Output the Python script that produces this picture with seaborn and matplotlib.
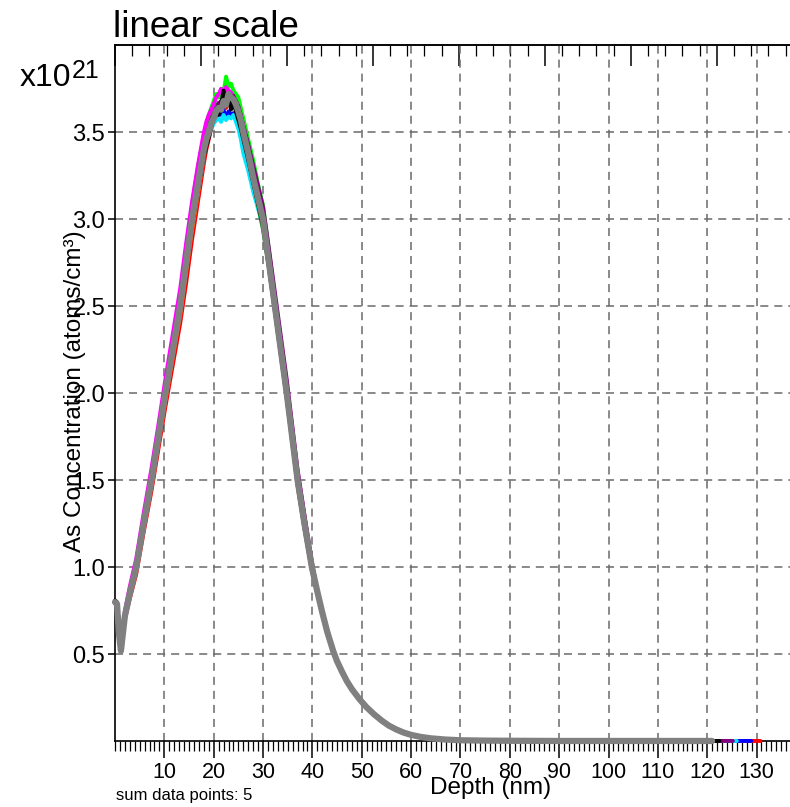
import numpy as np
import pandas as pd
import matplotlib
matplotlib.use("Agg")
import matplotlib.pyplot as plt
import seaborn as sns
from matplotlib.ticker import FixedLocator, MultipleLocator, NullFormatter

# ---------------- data (As concentration in units of 1e21 atoms/cm3) ----------------
depth_head = [0, 0.4, 0.8, 1.2, 1.6, 2, 3, 4.3, 5.8, 7.4, 8.8, 10.2, 11.7, 13.2, 14.4, 15.6, 16.8,
              18, 18.5, 19, 19.5, 20, 20.5, 21, 21.5, 22, 22.5, 23, 23.5, 24, 24.5, 25, 25.5, 26,
              27, 28, 29, 30, 31.2, 32.4, 33.6, 34.8, 35.9, 37, 38.4, 39.9]

depth_tail = [41, 42, 43, 44.2, 45, 46, 47, 48, 49.6, 51, 52.5, 54, 55.5, 57, 58.5, 60, 62, 64, 67,
              70, 75, 80, 90, 100, 110, 118, 119, 120, 121, 122.5, 125.2, 126, 127.7, 128.9, 130.8]
conc_tail = [0.86, 0.74, 0.63, 0.52, 0.46, 0.40, 0.345, 0.30, 0.24, 0.195, 0.155, 0.12, 0.09, 0.068,
             0.05, 0.037, 0.025, 0.017, 0.010, 0.006, 0.004, 0.003, 0.002, 0.002, 0.002, 0.002, 0.002,
             0.002, 0.002, 0.002, 0.002, 0.002, 0.002, 0.002, 0.002]

red = [0.80, 0.78, 0.61, 0.52, 0.60, 0.70, 0.82, 0.96, 1.20, 1.44, 1.68, 1.92, 2.16, 2.40, 2.63, 2.88, 3.10,
       3.32, 3.40, 3.46, 3.52, 3.56, 3.60, 3.63, 3.62, 3.66, 3.64, 3.68, 3.67, 3.66, 3.63, 3.60, 3.56, 3.50,
       3.38, 3.25, 3.12, 3.00, 2.75, 2.50, 2.25, 2.00, 1.74, 1.49, 1.24, 0.99]
orange = [0.80, 0.78, 0.61, 0.52, 0.61, 0.71, 0.84, 0.98, 1.23, 1.47, 1.72, 1.96, 2.21, 2.45, 2.70, 2.94, 3.15,
          3.36, 3.44, 3.49, 3.54, 3.58, 3.61, 3.62, 3.65, 3.64, 3.67, 3.66, 3.70, 3.67, 3.65, 3.61, 3.55, 3.48,
          3.37, 3.24, 3.12, 3.00, 2.76, 2.51, 2.26, 2.01, 1.76, 1.51, 1.26, 1.01]
blue = [0.80, 0.79, 0.62, 0.52, 0.62, 0.72, 0.85, 0.99, 1.24, 1.49, 1.74, 1.99, 2.24, 2.49, 2.74, 2.98, 3.18,
        3.38, 3.45, 3.50, 3.53, 3.57, 3.59, 3.61, 3.60, 3.63, 3.58, 3.62, 3.60, 3.61, 3.58, 3.55, 3.52, 3.47,
        3.36, 3.23, 3.11, 2.99, 2.75, 2.50, 2.25, 2.00, 1.75, 1.50, 1.25, 1.00]
cyan = [0.80, 0.79, 0.62, 0.52, 0.62, 0.72, 0.85, 1.00, 1.25, 1.50, 1.75, 2.00, 2.25, 2.50, 2.74, 2.98, 3.19,
        3.38, 3.44, 3.48, 3.52, 3.55, 3.57, 3.58, 3.56, 3.60, 3.57, 3.59, 3.58, 3.60, 3.56, 3.52, 3.46, 3.38,
        3.28, 3.16, 3.06, 2.96, 2.73, 2.49, 2.24, 1.99, 1.74, 1.49, 1.24, 0.99]
green = [0.80, 0.79, 0.62, 0.52, 0.62, 0.72, 0.85, 1.00, 1.25, 1.51, 1.76, 2.02, 2.28, 2.55, 2.82, 3.08, 3.30,
         3.48, 3.55, 3.60, 3.64, 3.68, 3.72, 3.70, 3.75, 3.73, 3.82, 3.76, 3.78, 3.74, 3.72, 3.70, 3.64, 3.58,
         3.46, 3.34, 3.20, 3.08, 2.82, 2.55, 2.28, 2.01, 1.76, 1.51, 1.26, 1.01]
darkgreen = [0.80, 0.79, 0.62, 0.52, 0.62, 0.72, 0.85, 1.00, 1.26, 1.51, 1.76, 2.01, 2.26, 2.52, 2.77, 3.02, 3.23,
             3.42, 3.49, 3.54, 3.58, 3.61, 3.65, 3.67, 3.66, 3.70, 3.69, 3.73, 3.71, 3.70, 3.67, 3.62, 3.56, 3.49,
             3.36, 3.22, 3.08, 2.94, 2.72, 2.48, 2.24, 1.99, 1.74, 1.49, 1.24, 0.99]
magenta = [0.80, 0.79, 0.63, 0.53, 0.64, 0.75, 0.89, 1.05, 1.31, 1.57, 1.82, 2.08, 2.34, 2.60, 2.86, 3.10, 3.31,
           3.50, 3.56, 3.60, 3.63, 3.66, 3.70, 3.72, 3.75, 3.71, 3.76, 3.74, 3.73, 3.70, 3.68, 3.64, 3.59, 3.53,
           3.42, 3.29, 3.16, 3.04, 2.80, 2.55, 2.30, 2.05, 1.80, 1.55, 1.29, 1.02]
purple = [0.80, 0.79, 0.62, 0.52, 0.62, 0.72, 0.85, 1.00, 1.25, 1.50, 1.75, 2.00, 2.25, 2.50, 2.75, 3.00, 3.21,
          3.41, 3.47, 3.51, 3.56, 3.60, 3.62, 3.66, 3.68, 3.70, 3.69, 3.72, 3.70, 3.71, 3.68, 3.65, 3.60, 3.54,
          3.43, 3.31, 3.19, 3.07, 2.83, 2.58, 2.33, 2.08, 1.82, 1.56, 1.30, 1.03]
black = [0.81, 0.80, 0.62, 0.52, 0.61, 0.71, 0.84, 0.99, 1.24, 1.49, 1.74, 1.99, 2.24, 2.49, 2.73, 2.97, 3.17,
         3.36, 3.42, 3.47, 3.53, 3.58, 3.61, 3.60, 3.66, 3.74, 3.66, 3.72, 3.63, 3.68, 3.62, 3.57, 3.52, 3.46,
         3.34, 3.21, 3.09, 2.97, 2.72, 2.47, 2.22, 1.97, 1.72, 1.47, 1.22, 0.98]
gray = [0.80, 0.79, 0.62, 0.52, 0.62, 0.72, 0.85, 1.00, 1.25, 1.50, 1.75, 2.00, 2.25, 2.50, 2.75, 3.00, 3.20,
        3.40, 3.46, 3.50, 3.55, 3.58, 3.62, 3.64, 3.63, 3.68, 3.66, 3.72, 3.70, 3.69, 3.66, 3.62, 3.57, 3.50,
        3.38, 3.24, 3.12, 3.00, 2.75, 2.50, 2.25, 2.00, 1.75, 1.50, 1.25, 1.00]

series_names = ["red", "orange", "blue", "cyan", "green", "darkgreen", "magenta", "purple", "black", "gray"]
series_values = [red, orange, blue, cyan, green, darkgreen, magenta, purple, black, gray]
series_end = [130.8, 127.7, 128.9, 126.0, 118.0, 119.0, 120.0, 125.2, 122.5, 121.0]
series_colors = ["#ff0000", "#ff8000", "#0000ff", "#00e6ff", "#00ff00", "#008000",
                 "#ff00ff", "#800080", "#000000", "#808080"]

x_ticks = [10, 20, 30, 40, 50, 60, 70, 80, 90, 100, 110, 120, 130]
x_ticklabels = [str(v) for v in x_ticks]
y_ticks = [0.5, 1.0, 1.5, 2.0, 2.5, 3.0, 3.5]
y_ticklabels = ["0.5", "1.0", "1.5", "2.0", "2.5", "3.0", "3.5"]

# ---------------- figure ----------------
sns.set_theme(style="ticks")
plt.rcParams["font.family"] = ["Liberation Sans", "DejaVu Sans"]
plt.rcParams["lines.scale_dashes"] = False

W, H = 790, 807
fig = plt.figure(figsize=(W / 100, H / 100), dpi=100)
fig.patch.set_facecolor("white")

x_left_px, x_right_px = 115.0, 790.0
y_bot_px, y_top_px = 741.3, 45.3
ax = fig.add_axes([x_left_px / W, 1 - y_bot_px / H, (x_right_px - x_left_px) / W, (y_bot_px - y_top_px) / H])
ax.set_facecolor("white")

rows = []
for name, vals, end in zip(series_names, series_values, series_end):
    d = list(depth_head) + [t for t in depth_tail if t <= end]
    c = list(vals) + [v for t, v in zip(depth_tail, conc_tail) if t <= end]
    rows.append(pd.DataFrame({"depth": d, "conc": c, "series": name}))
df = pd.concat(rows, ignore_index=True)

for name, color in zip(series_names, series_colors):
    sub = df[df["series"] == name]
    lw = 4.5 if name == "gray" else 2.8
    sns.lineplot(data=sub, x="depth", y="conc", color=color, linewidth=lw, ax=ax,
                 sort=False, estimator=None, zorder=3, clip_on=False)

ax.set_xlim(0, (x_right_px - x_left_px) / 4.935)
ax.set_ylim(0, 4.0)
ax.set_xlabel("")
ax.set_ylabel("")

ax.xaxis.set_major_locator(FixedLocator(x_ticks))
ax.set_xticklabels(x_ticklabels)
ax.xaxis.set_minor_locator(MultipleLocator(1))
ax.yaxis.set_major_locator(FixedLocator(y_ticks))
ax.set_yticklabels(y_ticklabels)

ax.grid(True, which="major", axis="both", color="#6a6a6a", linewidth=1.1,
        linestyle=(0, (5.8, 4.3)), zorder=1)
ax.set_axisbelow(True)

ax.tick_params(axis="x", which="major", direction="out", length=12, width=1.1,
               labelsize=15.5, pad=3, colors="black", top=False)
ax.tick_params(axis="x", which="minor", direction="out", length=7, width=0.9,
               colors="black", top=False)
ax.tick_params(axis="y", which="major", direction="out", length=5, width=1.1,
               labelsize=17, pad=2, colors="black", right=False)

for s in ["left", "bottom", "top"]:
    ax.spines[s].set_color("black")
    ax.spines[s].set_linewidth(1.2)
ax.spines["right"].set_visible(False)

top_factor = 17.42
sec = ax.secondary_xaxis("top", functions=(lambda d: d / top_factor, lambda t: t * top_factor))
sec.xaxis.set_major_locator(MultipleLocator(1))
sec.xaxis.set_minor_locator(MultipleLocator(0.2))
sec.xaxis.set_major_formatter(NullFormatter())
sec.tick_params(axis="x", which="major", direction="in", length=15, width=1.1, colors="black")
sec.tick_params(axis="x", which="minor", direction="in", length=8, width=0.9, colors="black")
sec.spines["top"].set_linewidth(1.2)

# ---------------- texts ----------------
fig.text(113 / W, 1 - 36.7 / H, "linear scale", fontsize=26.5, ha="left", va="baseline", color="black")
fig.text(20 / W, 1 - 86 / H, "x10", fontsize=23, ha="left", va="baseline", color="black")
fig.text(72 / W, 1 - 78 / H, "21", fontsize=18, ha="left", va="baseline", color="black")
fig.text(75 / W, 1 - 391 / H, "As Concentration (atoms/cm³)", fontsize=17.5, rotation=90,
         ha="center", va="center", color="black")
fig.text(490.8 / W, 1 - 794 / H, "Depth (nm)", fontsize=17.5, ha="center", va="baseline", color="black")
fig.text(116 / W, 1 - 800 / H, "sum data points: 5", fontsize=12, ha="left", va="baseline", color="black")

fig.savefig("out.png", dpi=100, facecolor="white")
